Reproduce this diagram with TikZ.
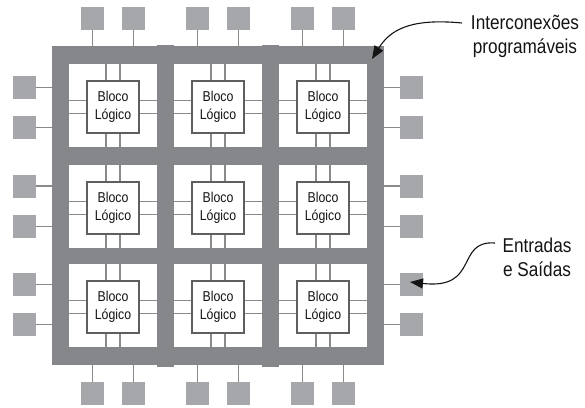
\documentclass[tikz,border=0pt]{standalone}
\usepackage{fontspec}
\setmainfont{Liberation Sans}[FakeStretch=0.86]
\usetikzlibrary{arrows.meta,calc}
\definecolor{frameg}{RGB}{134,135,139}
\definecolor{padg}{RGB}{166,167,171}
\definecolor{wireg}{RGB}{138,138,141}
\definecolor{blkb}{RGB}{95,95,98}
\definecolor{txt}{RGB}{20,20,20}
\begin{document}
\begin{tikzpicture}[x=1pt,y=-1pt,
  framebox/.style={fill=frameg,draw=none,inner sep=0pt,outer sep=0pt,minimum width=332pt,minimum height=319pt},
  pad/.style={fill=padg,draw=none,minimum size=23pt,inner sep=0pt,outer sep=0pt},
  cellbox/.style={fill=white,draw=none,minimum width=88pt,minimum height=83pt,inner sep=0pt,outer sep=0pt},
  blk/.style={fill=white,draw=blkb,line width=2.2pt,minimum size=52pt,inner sep=0pt,align=center,text=txt,font=\fontsize{14.3}{17.5}\selectfont},
  wire/.style={draw=wireg,line width=1.3pt},
  lab/.style={align=center,text=txt,font=\fontsize{20}{24}\selectfont,inner sep=0pt},
  arr/.style={draw=txt,line width=1.1pt,-{Triangle[length=13pt,width=10pt]}}]
\useasboundingbox (0,0) rectangle (585,407);
% interconnect frame
\node[framebox] (frame) at (218,205.5) {};
\fill[frameg] (157,44.5) rectangle (174,366.5);
\fill[frameg] (262,44.5) rectangle (279,366.5);
% cells and logic blocks
\foreach \c/\x in {1/113,2/218,3/323}{
  \foreach \r/\cy/\by in {1/105.5/107,2/206.5/208,3/305.5/307}{
    \node[cellbox] (c\c\r) at (\x,\cy) {};
    \node[blk] (b\c\r) at (\x,\by) {Bloco\\Lógico};
    \draw[wire] ([xshift=-7pt]b\c\r.north) -- ([xshift=-7pt]b\c\r.north |- c\c\r.north);
    \draw[wire] ([xshift=7pt]b\c\r.north) -- ([xshift=7pt]b\c\r.north |- c\c\r.north);
    \draw[wire] ([xshift=-7pt]b\c\r.south) -- ([xshift=-7pt]b\c\r.south |- c\c\r.south);
    \draw[wire] ([xshift=7pt]b\c\r.south) -- ([xshift=7pt]b\c\r.south |- c\c\r.south);
    \draw[wire] ([yshift=6.5pt]b\c\r.west) -- ([yshift=6.5pt]b\c\r.west -| c\c\r.west);
    \draw[wire] ([yshift=-6.5pt]b\c\r.west) -- ([yshift=-6.5pt]b\c\r.west -| c\c\r.west);
    \draw[wire] ([yshift=6.5pt]b\c\r.east) -- ([yshift=6.5pt]b\c\r.east -| c\c\r.east);
    \draw[wire] ([yshift=-6.5pt]b\c\r.east) -- ([yshift=-6.5pt]b\c\r.east -| c\c\r.east);
  }}
% I/O pads top and bottom
\foreach \i/\x in {1/92.5,2/133.5,3/197.5,4/238.5,5/302.5,6/343.5}{
  \node[pad] (pt\i) at (\x,18.5) {};
  \draw[wire] (pt\i.south) -- (pt\i.south |- frame.north);
  \node[pad] (pb\i) at (\x,393.5) {};
  \draw[wire] (pb\i.north) -- (pb\i.north |- frame.south);
}
% I/O pads left and right
\foreach \i/\y in {1/87.5,2/127.5,3/186,4/226.5,5/284.5,6/324.5}{
  \node[pad] (pl\i) at (24.5,\y) {};
  \draw[wire] (pl\i.east) -- (pl\i.east -| frame.west);
  \node[pad] (pr\i) at (411.5,\y) {};
  \draw[wire] (pr\i.west) -- (pr\i.west -| frame.east);
}
% labels (base anchor = baseline of last line)
\node[lab,anchor=base] (lint) at (525,53) {Interconexões\\programáveis};
\node[lab,anchor=base] (lio) at (537,276) {Entradas\\e Saídas};
\coordinate (intS) at (462,23);
\coordinate (intT) at (372,59);
\coordinate (ioS) at (495,243);
\coordinate (ioT) at (410,282);
\draw[arr] (intS) .. controls (410,18) and (390,30) .. (intT);
\draw[arr] (ioS) .. controls (455,240) and (480,290) .. (ioT);
\end{tikzpicture}
\end{document}
